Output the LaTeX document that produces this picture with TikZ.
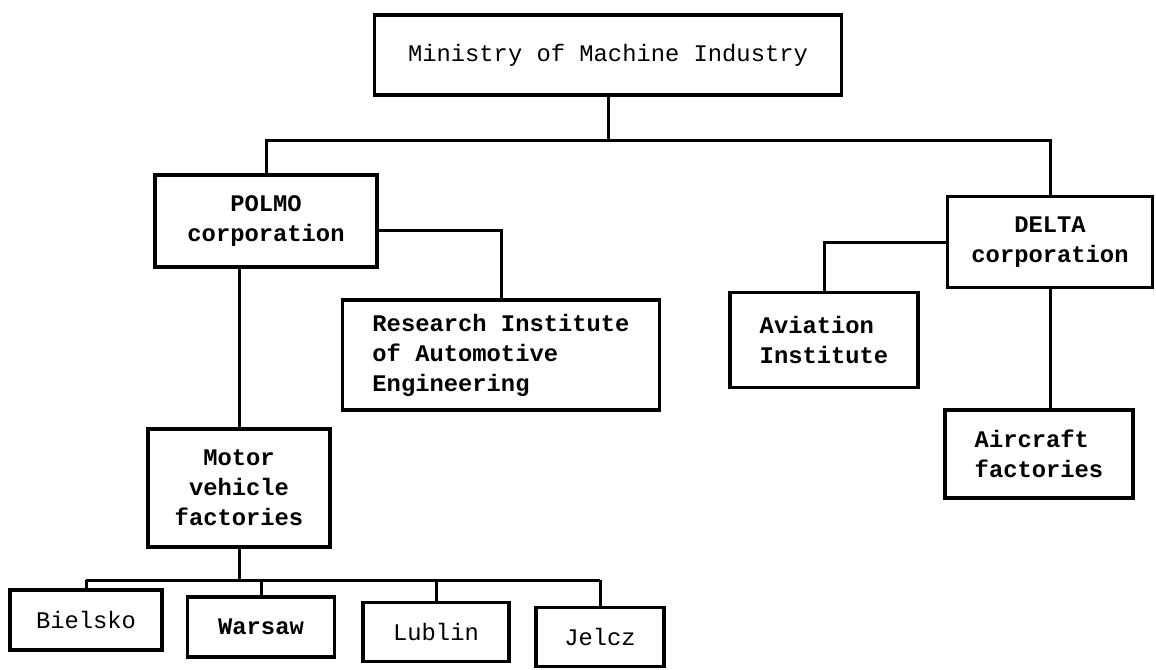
\documentclass[tikz,border=0pt]{standalone}
\usepackage{fontspec}
\setmonofont{Liberation Mono}

\begin{document}
\begin{tikzpicture}[x=0.5pt,y=-0.5pt,
    orgbox/.style={draw,line width=1.6pt,align=center,inner sep=0pt,
        font=\ttfamily\fontsize{11.9}{15}\selectfont},
    heavy/.style={font=\ttfamily\bfseries\fontsize{11.9}{15}\selectfont},
    orgline/.style={line width=1.5pt}]
    \useasboundingbox (0,0) rectangle (1156,669);

    \node[orgbox,minimum width=233.5pt,minimum height=40pt] (Ministry) at (608,55) {Ministry of Machine Industry};

    \node[orgbox,heavy,minimum width=111pt,minimum height=46pt] (Polmo) at (266,221) {POLMO\\corporation};
    \node[orgbox,heavy,align=left,minimum width=158.5pt,minimum height=55pt] (Research) at (501,355) {Research Institute\\of Automotive\\Engineering};
    \node[orgbox,heavy,minimum width=91pt,minimum height=59pt] (Motor) at (239,488) {Motor\\vehicle\\factories};

    \node[orgbox,heavy,minimum width=102.5pt,minimum height=45.5pt] (Delta) at (1050,242) {DELTA\\corporation};
    \node[orgbox,heavy,align=left,minimum width=94pt,minimum height=47.5pt] (Aviation) at (824,340) {Aviation\\Institute};
    \node[orgbox,heavy,align=left,minimum width=94pt,minimum height=44pt] (Aircraft) at (1039,454) {Aircraft\\factories};

    \node[orgbox,minimum width=76pt,minimum height=30pt] (Bielsko) at (86,620) {Bielsko};
    \node[orgbox,heavy,minimum width=73.5pt,minimum height=30pt] (Warsaw) at (261,627) {Warsaw};
    \node[orgbox,minimum width=73pt,minimum height=29.5pt] (Lublin) at (436,632) {Lublin};
    \node[orgbox,minimum width=64pt,minimum height=29.5pt] (Jelcz) at (600,637) {Jelcz};

    \coordinate (topbus) at (Ministry.south |- 0,140);
    \coordinate (lowbus) at (Motor.south |- 0,580);

    \draw[orgline] (Ministry) -- (topbus);
    \draw[orgline] (Polmo.north) |- (topbus) -| (Delta.north);
    \draw[orgline] ([yshift=-4.5pt]Polmo.east) -| (Research.north);
    \draw[orgline] (Motor.north) -- (Motor.north |- Polmo.south);
    \draw[orgline] (Delta.west) -| (Aviation.north);
    \draw[orgline] (Delta.south) -- (Delta.south |- Aircraft.north);

    \draw[orgline] (Motor) -- (lowbus);
    \draw[orgline] (Bielsko.north |- lowbus) -- (Jelcz.north |- lowbus);
    \foreach \plant in {Bielsko,Warsaw,Lublin,Jelcz}
        \draw[orgline] (\plant.north) -- (\plant.north |- lowbus);
\end{tikzpicture}
\end{document}
